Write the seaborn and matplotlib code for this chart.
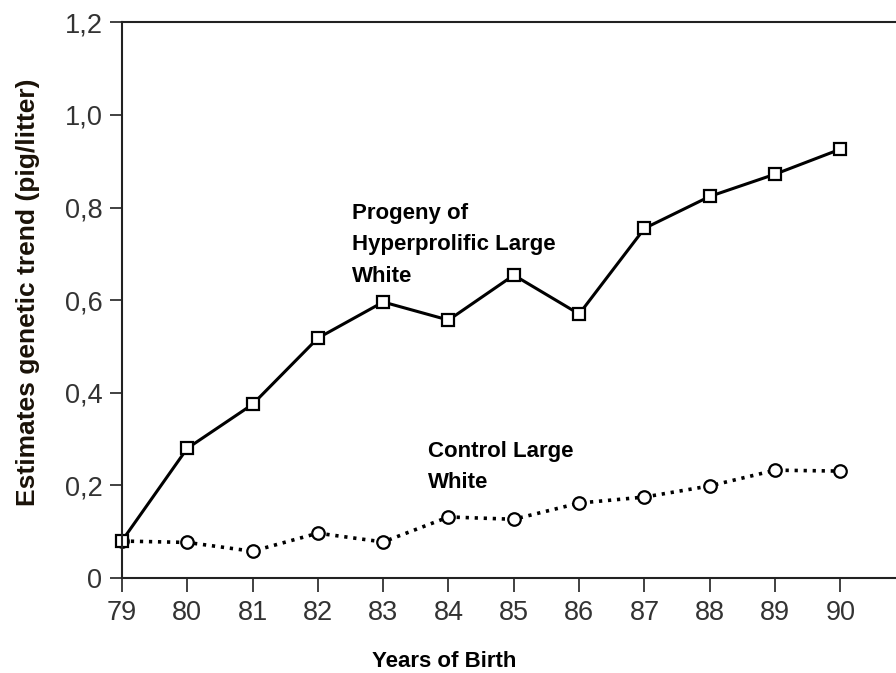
import matplotlib
matplotlib.use("Agg")
import matplotlib.pyplot as plt
import seaborn as sns
import pandas as pd
from matplotlib.ticker import FuncFormatter

# values
years = [79, 80, 81, 82, 83, 84, 85, 86, 87, 88, 89, 90]
hyperprolific = [0.08, 0.28, 0.375, 0.518, 0.596, 0.557, 0.654, 0.570, 0.755, 0.824, 0.872, 0.926]
control = [0.08, 0.077, 0.058, 0.097, 0.078, 0.132, 0.127, 0.162, 0.175, 0.199, 0.233, 0.231]
y_ticks = [0, 0.2, 0.4, 0.6, 0.8, 1.0, 1.2]

df_hyper = pd.DataFrame({"year": years, "trend": hyperprolific})
df_ctrl = pd.DataFrame({"year": years, "trend": control})

sns.set_style("ticks")
plt.rcParams["font.family"] = ["Liberation Sans", "DejaVu Sans"]

fig = plt.figure(figsize=(8.96, 6.73), dpi=100)
ax = fig.add_axes([0.136, 0.141, 0.864, 0.826])

# dotted control line first so the squares sit on top
sns.lineplot(data=df_ctrl, x="year", y="trend", ax=ax, color="black",
             linewidth=2.6, linestyle=(0, (0.9, 1.6)), marker="o",
             markersize=9, markerfacecolor="white", markeredgecolor="black",
             markeredgewidth=1.6, clip_on=False)
sns.lineplot(data=df_hyper, x="year", y="trend", ax=ax, color="black",
             linewidth=2.2, marker="s", markersize=8.5,
             markerfacecolor="white", markeredgecolor="black",
             markeredgewidth=1.6, clip_on=False)

ax.set_xlim(79, 90.85)
ax.set_ylim(0, 1.2)
ax.set_xticks(years)
ax.set_yticks(y_ticks)
ax.yaxis.set_major_formatter(FuncFormatter(
    lambda v, p: "0" if v == 0 else f"{v:.1f}".replace(".", ",")))

ax.spines["right"].set_visible(False)
for s in ["left", "top", "bottom"]:
    ax.spines[s].set_linewidth(1.5)
    ax.spines[s].set_color("#222222")

ax.tick_params(axis="both", direction="out", width=1.3, color="#333333",
               labelsize=19.5, labelcolor="#333333")
ax.tick_params(axis="y", length=9, pad=5)
ax.tick_params(axis="x", length=10, pad=6)

ax.set_xlabel("Years of Birth", fontsize=16, fontweight="bold", color="black")
ax.xaxis.set_label_coords(0.417, -0.131)
ax.set_ylabel("Estimates genetic trend (pig/litter)", fontsize=19,
              fontweight="bold", color="#1a1208")
ax.yaxis.set_label_coords(-0.106, 0.514)

ax.text(82.52, 0.81, "Progeny of\nHyperprolific Large\nWhite", fontsize=16,
        fontweight="bold", color="black", va="top", ha="left", linespacing=1.65)
ax.text(83.69, 0.297, "Control Large\nWhite", fontsize=16,
        fontweight="bold", color="black", va="top", ha="left", linespacing=1.65)

fig.savefig("out.png", dpi=100)
